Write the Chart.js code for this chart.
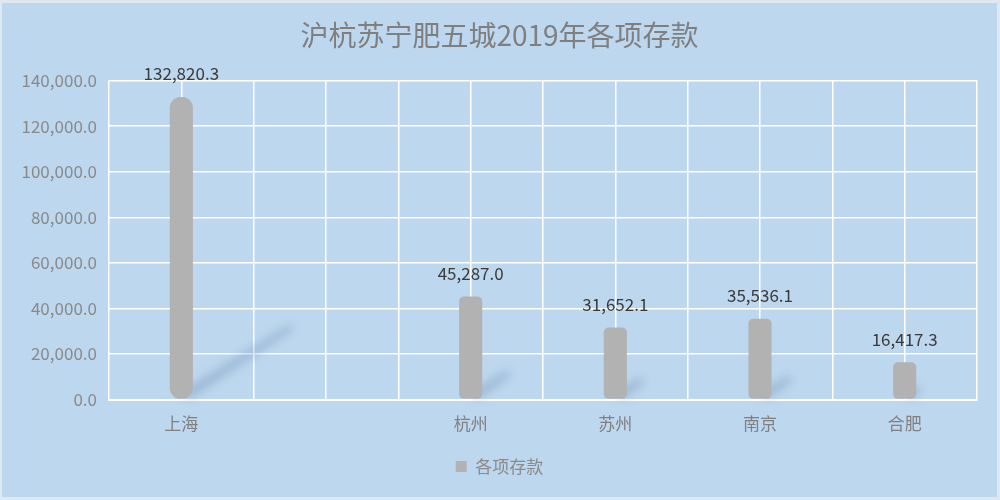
<!DOCTYPE html>
<html>
<head>
<meta charset="utf-8">
<script src="https://cdn.jsdelivr.net/npm/chart.js@4/dist/chart.umd.min.js"></script>
<style>
  html, body { margin: 0; padding: 0; background: #dfe7f0; }
  #wrap { position: absolute; left: 2px; top: 3px; width: 995px; height: 494px; background: #bdd7ee; }
</style>
</head>
<body>
<div id="wrap"><canvas id="c"></canvas></div>
<script>
// 城市（第二个位置原图为空类目）
const cities = ['上海', '', '杭州', '苏州', '南京', '合肥'];
const deposits = [132820.3, null, 45287.0, 31652.1, 35536.1, 16417.3];
const yTicks = [0, 20000, 40000, 60000, 80000, 100000, 120000, 140000];
const seriesName = '各项存款';
const chartTitle = '沪杭苏宁肥五城2019年各项存款';

const FONT = '"Noto Sans CJK SC", "Noto Sans", sans-serif';

function fmt(v) {
    return v.toLocaleString('en-US', {minimumFractionDigits: 1, maximumFractionDigits: 1});
}

// 柱子下方的斜影
const shadowPlugin = {
    id: 'barShadow',
    beforeDatasetsDraw(chart) {
        const ctx = chart.ctx;
        const meta = chart.getDatasetMeta(0);
        ctx.save();
        ctx.filter = 'blur(5px)';
        ctx.fillStyle = 'rgba(95,125,165,0.38)';
        meta.data.forEach((bar, i) => {
            if (deposits[i] == null) return;
            const h = bar.base - bar.y;
            const w = bar.width;
            const x0 = bar.x, y0 = bar.base - 2;
            const dx = h * 0.36, dy = h * 0.23;
            ctx.beginPath();
            ctx.moveTo(x0, y0 - w * 0.2);
            ctx.lineTo(x0 + dx, y0 - dy - 3);
            ctx.lineTo(x0 + dx + 3, y0 - dy + 2);
            ctx.lineTo(x0 + w * 0.35, y0 + 2);
            ctx.closePath();
            ctx.fill();
        });
        ctx.restore();
    }
};

// 柱顶数值标签
const valueLabels = {
    id: 'valueLabels',
    afterDatasetsDraw(chart) {
        const ctx = chart.ctx;
        const meta = chart.getDatasetMeta(0);
        ctx.save();
        ctx.font = '17px ' + FONT;
        ctx.fillStyle = '#3a3a3a';
        ctx.textAlign = 'center';
        ctx.textBaseline = 'middle';
        meta.data.forEach((bar, i) => {
            if (deposits[i] == null) return;
            ctx.fillText(fmt(deposits[i]), bar.x, bar.y - 23);
        });
        ctx.restore();
    }
};

new Chart(document.getElementById('c'), {
    type: 'bar',
    data: {
        labels: cities,
        datasets: [{
            label: seriesName,
            data: deposits,
            backgroundColor: '#b2b2b2',
            borderSkipped: false,
            borderRadius: (c) => c.dataIndex === 0 ? 11 : 5,
            barPercentage: 0.16,
            categoryPercentage: 1
        }]
    },
    options: {
        responsive: true,
        maintainAspectRatio: false,
        animation: false,
        layout: { padding: { left: 0, right: 0, top: 0, bottom: 12 } },
        plugins: {
            title: {
                display: true,
                text: chartTitle,
                color: '#7f7f7f',
                font: { family: FONT, size: 28, weight: 'normal' },
                padding: { top: 16, bottom: 28 }
            },
            legend: {
                position: 'bottom',
                labels: {
                    color: '#8a8a8a',
                    font: { family: FONT, size: 17 },
                    usePointStyle: true,
                    pointStyle: 'rect',
                    boxWidth: 11,
                    boxHeight: 11,
                    padding: 8
                }
            },
            tooltip: { enabled: false }
        },
        scales: {
            x: {
                offset: true,
                afterFit(axis) { axis.height += 2; },
                grid: { color: '#ffffff', lineWidth: 1.5, offset: true, drawTicks: false },
                border: { color: '#ffffff', width: 2 },
                ticks: { color: '#808080', font: { family: FONT, size: 17 }, padding: 14 }
            },
            x2: {
                type: 'category',
                labels: cities,
                position: 'top',
                offset: true,
                grid: { color: '#ffffff', lineWidth: 1.5, offset: false, drawTicks: false },
                border: { display: false },
                ticks: { display: false }
            },
            y: {
                min: 0,
                max: 140000,
                afterBuildTicks(axis) { axis.ticks = yTicks.map(v => ({value: v})); },
                afterFit(axis) { axis.width = 107; },
                grid: { color: '#ffffff', lineWidth: 1.5, drawTicks: false },
                border: { display: false },
                ticks: {
                    color: '#8a8a8a',
                    font: { family: FONT, size: 17 },
                    padding: 12,
                    callback: (v) => fmt(v)
                }
            },
            // 右侧留白
            yR: {
                position: 'right',
                afterFit(axis) { axis.width = 20; },
                grid: { display: false },
                border: { display: false },
                ticks: { display: false }
            }
        }
    },
    plugins: [shadowPlugin, valueLabels]
});
</script>
</body>
</html>
